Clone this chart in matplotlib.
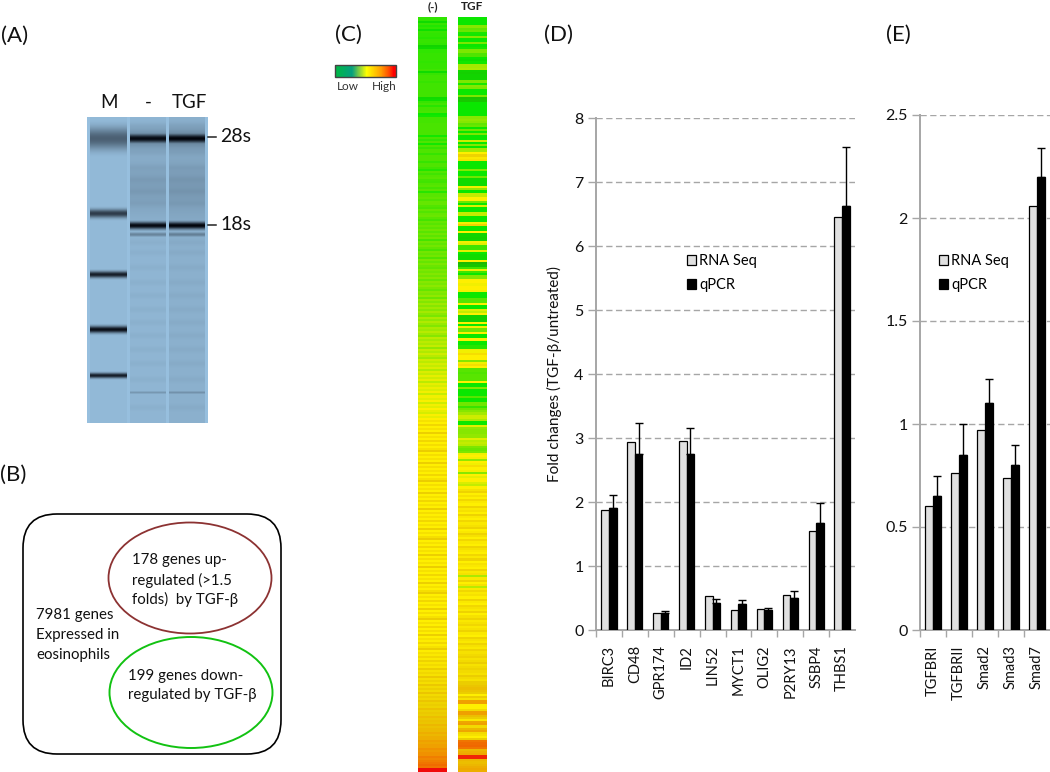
"""Composite figure: gel image, gene Venn sketch, expression heatmap, qPCR bars."""

import numpy as np
import matplotlib
matplotlib.use("Agg")
import matplotlib.pyplot as plt
from matplotlib.colors import LinearSegmentedColormap
from matplotlib.patches import Ellipse, FancyBboxPatch, Rectangle

plt.rcParams["font.family"] = ["Lato", "DejaVu Sans"]

W, H = 1050, 772

# Panel D
genes_d = ["BIRC3", "CD48", "GPR174", "ID2", "LIN52", "MYCT1", "OLIG2", "P2RY13", "SSBP4", "THBS1"]
rna_d = [1.88, 2.94, 0.26, 2.95, 0.53, 0.31, 0.33, 0.55, 1.54, 6.45]
qpcr_d = [1.91, 2.75, 0.27, 2.75, 0.42, 0.41, 0.32, 0.50, 1.67, 6.63]
err_d = [0.20, 0.48, 0.02, 0.40, 0.07, 0.06, 0.02, 0.11, 0.31, 0.91]
ticks_d = [0, 1, 2, 3, 4, 5, 6, 7, 8]

# Panel E
genes_e = ["TGFBRI", "TGFBRII", "Smad2", "Smad3", "Smad7"]
rna_e = [0.60, 0.76, 0.97, 0.74, 2.06]
qpcr_e = [0.65, 0.85, 1.10, 0.80, 2.20]
err_e = [0.10, 0.15, 0.12, 0.10, 0.14]
ticks_e = [0, 0.5, 1, 1.5, 2, 2.5]
tick_labels_e = ["0", "0.5", "1", "1.5", "2", "2.5"]

# Panel C, one value per gene row, top to bottom
heat_untreated = [
    13, 13, 6, 14, 11, 13, 7, 14, 13, 13, 12, 14, 14, 13, 5, 6, 13, 13, 14, 14,
    14, 14, 13, 14, 14, 14, 15, 6, 14, 15, 15, 15, 14, 15, 15, 15, 15, 15, 15, 15,
    6, 7, 14, 16, 12, 16, 16, 17, 8, 9, 16, 16, 16, 17, 17, 17, 17, 17, 17, 9,
    17, 13, 18, 9, 18, 14, 18, 18, 14, 18, 18, 18, 14, 18, 18, 15, 11, 19, 15, 19,
    20, 16, 15, 19, 20, 16, 20, 12, 20, 20, 22, 18, 23, 23, 19, 17, 23, 19, 23, 24,
    20, 16, 23, 20, 24, 21, 25, 20, 25, 21, 25, 16, 25, 22, 26, 22, 17, 26, 23, 26,
    18, 27, 23, 28, 24, 22, 28, 25, 29, 25, 30, 23, 30, 27, 31, 27, 23, 30, 28, 32,
    24, 33, 29, 34, 30, 34, 30, 35, 31, 27, 36, 32, 37, 33, 29, 36, 34, 38, 34, 30,
    39, 35, 39, 36, 40, 32, 40, 37, 42, 38, 34, 42, 39, 43, 40, 44, 37, 44, 41, 46,
    42, 46, 39, 46, 43, 47, 44, 48, 41, 48, 45, 49, 42, 48, 45, 50, 46, 43, 49, 46,
    50, 54, 50, 57, 50, 54, 50, 59, 50, 54, 50, 57, 50, 55, 50, 54, 60, 50, 55, 50,
    54, 50, 59, 50, 55, 50, 54, 50, 57, 50, 54, 60, 50, 55, 50, 54, 50, 59, 50, 54,
    50, 57, 50, 54, 50, 60, 50, 55, 50, 54, 50, 57, 50, 54, 50, 59, 50, 54, 50, 55,
    60, 50, 54, 50, 57, 50, 54, 50, 59, 50, 55, 50, 54, 50, 60, 50, 54, 50, 57, 50,
    54, 50, 59, 50, 54, 50, 55, 60, 50, 54, 50, 57, 50, 54, 50, 59, 50, 55, 50, 54,
    60, 50, 54, 50, 57, 50, 55, 50, 59, 50, 54, 51, 57, 51, 54, 60, 51, 55, 52, 57,
    52, 58, 53, 56, 53, 60, 54, 57, 54, 61, 55, 58, 55, 61, 56, 59, 56, 62, 56, 59,
    57, 62, 58, 60, 58, 63, 59, 61, 60, 64, 61, 63, 62, 66, 63, 65, 65, 68, 66, 68,
    68, 72, 70, 72, 72, 76, 74, 76, 76, 80, 78, 80, 82, 84, 82, 100, 100,
]
heat_tgf = [
    8, 8, 8, 8, 30, 22, 24, 10, 9, 30, 8, 8, 28, 8, 10, 28, 28, 18, 18, 8,
    7, 9, 35, 35, 36, 5, 4, 5, 5, 5, 28, 10, 30, 28, 8, 8, 8, 28, 2, 3,
    8, 8, 8, 8, 8, 8, 8, 30, 32, 30, 22, 24, 8, 25, 8, 28, 8, 8, 42, 8,
    30, 8, 35, 35, 50, 58, 52, 54, 8, 8, 8, 8, 30, 8, 8, 25, 6, 6, 6, 6,
    48, 32, 8, 40, 40, 50, 50, 25, 8, 45, 8, 8, 40, 40, 8, 8, 8, 48, 58, 8,
    8, 50, 5, 5, 4, 5, 48, 45, 15, 15, 45, 8, 6, 6, 6, 50, 0, 2, 15, 48,
    15, 8, 30, 30, 50, 50, 48, 50, 50, 48, 8, 8, 8, 20, 20, 50, 8, 8, 45, 40,
    50, 4, 4, 4, 50, 8, 48, 25, 25, 50, 8, 8, 50, 8, 8, 12, 12, 48, 48, 55,
    50, 50, 30, 48, 55, 50, 20, 20, 18, 20, 20, 20, 50, 8, 8, 30, 8, 8, 8, 20,
    8, 8, 25, 25, 14, 24, 30, 35, 42, 42, 36, 8, 8, 45, 32, 30, 30, 32, 32, 45,
    38, 40, 38, 28, 24, 28, 48, 50, 48, 32, 50, 48, 55, 50, 48, 30, 50, 46, 50, 50,
    44, 40, 50, 54, 58, 50, 54, 50, 57, 52, 50, 58, 52, 54, 50, 58, 52, 50, 57, 52,
    54, 58, 50, 52, 58, 54, 50, 57, 52, 50, 58, 54, 52, 50, 57, 52, 58, 50, 54, 52,
    50, 58, 52, 54, 36, 52, 58, 50, 54, 38, 52, 57, 52, 54, 50, 58, 52, 50, 57, 54,
    52, 58, 50, 54, 58, 52, 54, 57, 52, 54, 58, 52, 50, 58, 54, 52, 58, 54, 52, 58,
    54, 56, 58, 54, 56, 60, 54, 56, 58, 56, 54, 60, 56, 54, 60, 60, 62, 64, 62, 60,
    50, 60, 54, 72, 72, 50, 50, 56, 72, 72, 64, 60, 52, 70, 72, 56, 66, 70, 56, 54,
    50, 60, 82, 84, 85, 82, 66, 68, 70, 96, 96, 66, 64, 66, 68, 70, 68,
]
colorbar_steps = [0, 8, 16, 24, 32, 40, 48, 56, 64, 72, 80, 88, 100]

# Panel A, y positions in gel pixels: (centre, half thickness, darkness)
marker_bands = [(21, 11, 0.52), (96, 4.2, 0.72), (157, 3.2, 0.88), (212, 3.4, 0.97), (258, 2.6, 0.88)]
sample_bands = [(21, 4.6, 1.0), (108, 3.6, 1.0), (117, 2.2, 0.32), (275, 1.4, 0.22)]
sample_faint = [8, 35, 50, 62, 74, 86, 125, 135, 150, 165, 178, 192, 205, 218, 232, 246, 262, 290]
sample_smear = [(21, 10, 0.26), (70, 30, 0.13)]

fig = plt.figure(figsize=(W / 100, H / 100), dpi=100)
page = fig.add_axes([0, 0, 1, 1])
page.set_xlim(0, W)
page.set_ylim(H, 0)
page.axis("off")

for label, x, y in [("(A)", 1, 36), ("(B)", 0, 475), ("(C)", 335, 35), ("(D)", 544, 35), ("(E)", 886, 35)]:
    page.text(x, y, label, fontsize=16, va="center", ha="left", color="#111111")

# ---- gel
gel_h, gel_w = 306, 121
yy = np.arange(gel_h)[:, None]
xx = np.arange(gel_w)[None, :]
dark = np.zeros((gel_h, gel_w))
lane_m = (xx >= 3) & (xx < 40)
lane_a = (xx >= 43) & (xx < 79)
lane_b = (xx >= 82) & (xx < 118)
lanes = (lane_a | lane_b)
dark = dark + 0.03 * lane_m + 0.05 * lanes
for c, s, d in marker_bands:
    dark = np.maximum(dark, d * np.exp(-((yy - c) / s) ** 2) * lane_m)
for c, s, d in sample_smear:
    dark = dark + d * np.exp(-((yy - c) / s) ** 2) * lanes
for c in sample_faint:
    dark = dark + 0.03 * np.exp(-((yy - c) / 3.0) ** 2) * lanes
for c, s, d in sample_bands:
    dark = np.maximum(dark, d * np.exp(-((yy - c) / s) ** 2) * lanes)
dark = dark + 0.03 * lane_b
base = np.array([151, 191, 222]) / 255
ink = np.array([6, 10, 18]) / 255
gel = base[None, None, :] * (1 - dark[..., None]) + ink[None, None, :] * dark[..., None]
page.imshow(gel, extent=(87, 208, 423, 117), aspect="auto", interpolation="bilinear", zorder=1)
for label, x in [("M", 109), ("-", 148), ("TGF", 189)]:
    page.text(x, 102, label, fontsize=13.5, ha="center", va="center", color="#111111")
for label, y in [("28s", 137), ("18s", 225)]:
    page.plot([208, 216], [y, y], color="#222222", lw=1.1, zorder=2)
    page.text(220, y, label, fontsize=14, ha="left", va="center", color="#111111")

# ---- gene set sketch
page.add_patch(FancyBboxPatch((23 + 34, 514 + 34), 258 - 68, 240 - 68, boxstyle="round,pad=34,rounding_size=34",
                              fc="none", ec="black", lw=1.2))
page.add_patch(Ellipse((190, 578), 163, 111, fc="none", ec="#8c3232", lw=1.3))
page.add_patch(Ellipse((191, 692.5), 163, 111, fc="none", ec="#12c212", lw=1.4))
for lines, x, ys in [
    (["7981 genes", "Expressed in", "eosinophils"], 36, [615, 635, 655]),
    (["178 genes up-", "regulated (>1.5", "folds)  by TGF-β"], 132, [560, 580, 599]),
    (["199 genes down-", "regulated by TGF-β"], 128, [676, 695]),
]:
    for line, y in zip(lines, ys):
        page.text(x, y, line, fontsize=10.8, ha="left", va="center", color="#111111")

# ---- heatmap
heat_cmap = LinearSegmentedColormap.from_list("heat", [
    (0.00, (30 / 255, 185 / 255, 0)), (0.08, (10 / 255, 232 / 255, 0)), (0.15, (65 / 255, 228 / 255, 0)),
    (0.30, (135 / 255, 232 / 255, 0)), (0.50, (255 / 255, 240 / 255, 0)), (0.60, (235 / 255, 205 / 255, 0)),
    (0.75, (240 / 255, 150 / 255, 0)), (0.88, (240 / 255, 90 / 255, 0)), (1.00, (240 / 255, 10 / 255, 10 / 255)),
])
for vals, x0, x1 in [(heat_untreated, 418, 447), (heat_tgf, 458, 487)]:
    page.imshow(np.array(vals)[:, None], extent=(x0, x1, 772, 17), aspect="auto", cmap=heat_cmap,
                vmin=0, vmax=100, interpolation="nearest", zorder=1)
page.text(433, 7, "(-)", fontsize=8.5, fontweight="bold", ha="center", va="center", color="#222222")
page.text(472, 7, "TGF", fontsize=8.5, fontweight="bold", ha="center", va="center", color="#222222")

# colour key
key_cmap = LinearSegmentedColormap.from_list("key", [
    (0.00, "#00b64a"), (0.25, "#06a080"), (0.50, "#ffff00"), (0.75, "#ff9c00"), (1.00, "#ff0000")])
page.imshow(np.array(colorbar_steps)[None, :], extent=(335, 396, 77, 65), aspect="auto", cmap=key_cmap,
            vmin=0, vmax=100, interpolation="bilinear", zorder=1)
page.add_patch(Rectangle((335, 65), 61, 12, fc="none", ec="#444444", lw=1.0, zorder=2))
page.text(348, 86, "Low", fontsize=8.5, ha="center", va="center", color="#333333")
page.text(384, 86, "High", fontsize=8.5, ha="center", va="center", color="#333333")

page.set_xlim(0, W)
page.set_ylim(H, 0)


def bar_panel(rect_px, cats, rna, qpcr, err, ticks, tick_labels, ymax, legend_xy):
    """One Excel-style grouped bar chart placed by its pixel box (left, top, right, bottom)."""
    left, top, right, bottom = rect_px
    ax = fig.add_axes([left / W, 1 - bottom / H, (right - left) / W, (bottom - top) / H])
    ax.patch.set_alpha(0)
    x = np.arange(len(cats))
    bw = 0.295
    ax.bar(x - bw / 2, rna, bw, color="#e0e0e0", edgecolor="black", lw=0.9, label="RNA Seq", zorder=3)
    ax.bar(x + bw / 2, qpcr, bw, color="black", edgecolor="black", lw=0.9, label="qPCR", zorder=3)
    ax.errorbar(x + bw / 2, qpcr, yerr=[[0] * len(err), err], fmt="none", ecolor="black", elinewidth=1.0,
                capsize=3.2, capthick=1.0, zorder=4)
    ax.set_xlim(-0.5, len(cats) - 0.5)
    ax.set_ylim(0, ymax)
    ax.set_yticks(ticks)
    ax.set_yticklabels(tick_labels, fontsize=11.5, color="#111111")
    ax.yaxis.grid(True, color="#a6a6a6", ls=(0, (4.5, 2.5)), lw=1.0, zorder=0)
    ax.set_axisbelow(True)
    ax.set_xticks(x - 0.5, minor=False)
    ax.set_xticklabels([""] * len(cats))
    ax.tick_params(axis="x", length=5, width=1.0, color="#a6a6a6")
    ax.tick_params(axis="y", length=6, width=1.0, color="#a6a6a6", pad=3)
    for i, name in enumerate(cats):
        ax.annotate(name, (i, 0), xytext=(0, -11), textcoords="offset points", rotation=90, ha="center", va="top",
                    fontsize=10.5, color="#111111", annotation_clip=False)
    for side in ("top", "right"):
        ax.spines[side].set_visible(False)
    for side in ("left", "bottom"):
        ax.spines[side].set_color("#a6a6a6")
        ax.spines[side].set_linewidth(1.4)
    ax.legend(loc="upper left", bbox_to_anchor=((legend_xy[0] - left) / (right - left),
                                                (bottom - legend_xy[1]) / (bottom - top)),
              frameon=False, fontsize=10.5, handlelength=0.65, handleheight=0.65, handletextpad=0.2,
              labelspacing=0.7, borderpad=0, borderaxespad=0)
    return ax


ax_d = bar_panel((596, 118, 855, 630), genes_d, rna_d, qpcr_d, err_d, ticks_d,
                 [str(t) for t in ticks_d], 8, (687, 254))
ax_d.set_ylabel("Fold changes (TGF-β/untreated)", fontsize=11, color="#111111", labelpad=9)
bar_panel((920, 115, 1050, 630), genes_e, rna_e, qpcr_e, err_e, ticks_e, tick_labels_e, 2.5, (939, 254))

fig.savefig("out.png", dpi=100)
